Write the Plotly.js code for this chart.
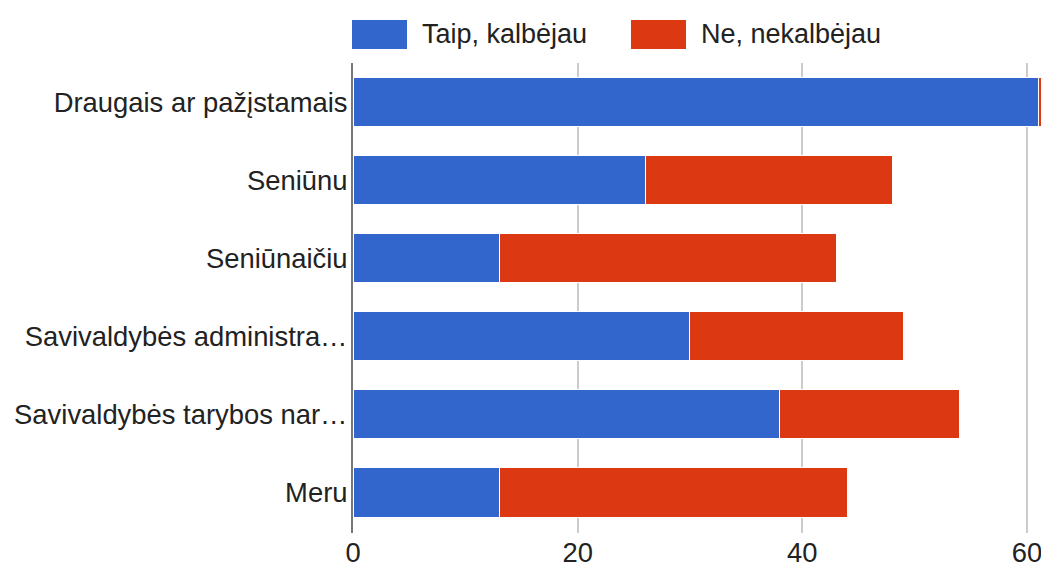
<!DOCTYPE html>
<html>
<head>
<meta charset="utf-8">
<script src="https://cdn.plot.ly/plotly-3.0.1.min.js"></script>
<style>html,body{margin:0;padding:0;background:#fff;}#chart{width:1041px;height:567px;}</style>
</head>
<body>
<div id="chart"></div>
<script>
const categories = ["Draugais ar pažįstamais", "Seniūnu", "Seniūnaičiu", "Savivaldybės administra…", "Savivaldybės tarybos nar…", "Meru"];
const seriesNames = ["Taip, kalbėjau", "Ne, nekalbėjau"];
const taipValues = [61, 26, 13, 30, 38, 13];
const neValues = [2, 22, 30, 19, 16, 31];
const tickValues = [0, 20, 40, 60];
const colors = ["#3366cc", "#dc3912"];

const font = {family: "Liberation Sans, Arial, sans-serif", size: 27.4, color: "#222222"};

const traces = [taipValues, neValues].map((vals, i) => ({
  type: "bar",
  orientation: "h",
  name: seriesNames[i],
  y: categories,
  x: vals,
  marker: {color: colors[i], line: {color: "#ffffff", width: 1}},
  hoverinfo: "x+y+name"
}));

// custom legend (boxes + labels) in paper coords
const legendX = [[352, 407, 420], [631, 686, 699]];
const W = 1041, H = 567, ml = 353, mr = 0, mt = 63, mb = 34;
const pw = W - ml - mr, ph = H - mt - mb;
const px = v => (v - ml) / pw;
const py = v => (H - mb - v) / ph;
const shapes = [], annotations = [];
seriesNames.forEach((n, i) => {
  shapes.push({type: "rect", xref: "paper", yref: "paper",
    x0: px(legendX[i][0]), x1: px(legendX[i][1]), y0: py(49), y1: py(20),
    fillcolor: colors[i], line: {width: 0}});
  annotations.push({xref: "paper", yref: "paper", x: px(legendX[i][2]), y: py(34),
    xanchor: "left", yanchor: "middle", text: n, showarrow: false,
    font: Object.assign({}, font, {size: 27})});
});

const layout = {
  width: W, height: H,
  margin: {l: ml, r: mr, t: mt, b: mb, pad: 0},
  barmode: "stack",
  bargap: 0.37,
  showlegend: false,
  paper_bgcolor: "#ffffff",
  plot_bgcolor: "#ffffff",
  font: font,
  xaxis: {
    range: [0, 61.25],
    tickvals: tickValues,
    ticktext: tickValues.map(String),
    showgrid: true, gridcolor: "#cccccc", gridwidth: 2,
    zeroline: false, showline: false, ticks: "",
    tickfont: font, ticklabelstandoff: 1, ticklabeloverflow: "allow", fixedrange: true
  },
  yaxis: {
    type: "category",
    range: [5.52, -0.5],
    showgrid: false, zeroline: false,
    showline: true, linecolor: "#777777", linewidth: 2,
    ticks: "", tickfont: font, ticklabelstandoff: -2, fixedrange: true
  },
  shapes: shapes,
  annotations: annotations
};

Plotly.newPlot("chart", traces, layout, {displayModeBar: false, staticPlot: false});
</script>
</body>
</html>
